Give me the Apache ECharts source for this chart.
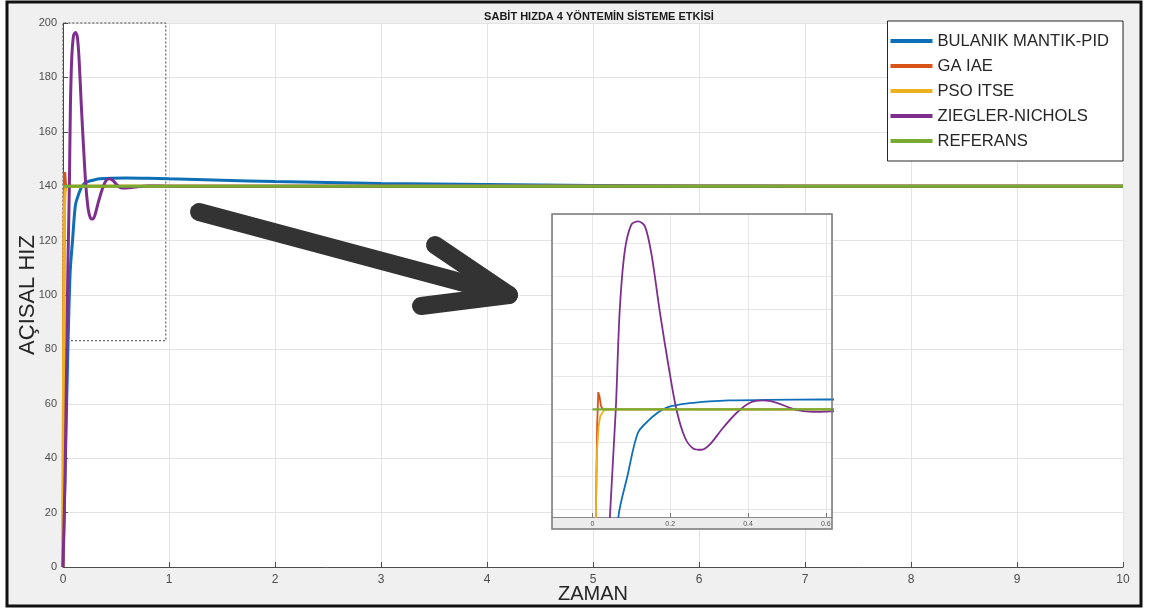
<!DOCTYPE html>
<html>
<head>
<meta charset="utf-8">
<script src="https://cdn.jsdelivr.net/npm/echarts@6/dist/echarts.min.js"></script>
<style>
  html, body { margin: 0; padding: 0; background: #fff; }
  #container { width: 1150px; height: 610px; }
</style>
</head>
<body>
<div id="container"></div>
<script>
// zaman (s) / açısal hız
const bulanikT = [0, 0.02, 0.04, 0.067, 0.09, 0.117, 0.147, 0.165, 0.181, 0.2, 0.23, 0.26, 0.3, 0.35, 0.45, 0.6, 0.8, 1.0, 1.5, 2, 3, 4, 5, 6, 7, 10];
const bulanikV = [0, 35, 70, 108, 120, 133, 137, 138.8, 140, 140.9, 141.6, 142, 142.4, 142.7, 142.9, 143, 142.9, 142.7, 142.2, 141.7, 141.0, 140.6, 140.3, 140.1, 140, 140];

const gaT = [0, 0.005, 0.009, 0.012, 0.015, 0.018, 0.022, 0.027, 10];
const gaV = [0, 70, 110, 135, 145.2, 144, 141, 140, 140];

const psoT = [0, 0.005, 0.009, 0.012, 0.016, 0.02, 0.03, 0.05, 10];
const psoV = [0, 70, 110, 128, 135, 138, 139.8, 140, 140];

const zieglerT = [0, 0.02, 0.035, 0.045, 0.06, 0.07, 0.083, 0.1, 0.1175, 0.135, 0.152, 0.173, 0.195, 0.216, 0.238, 0.259, 0.281, 0.302, 0.336, 0.371, 0.405, 0.439, 0.474, 0.508, 0.542, 0.577, 0.613, 0.65, 0.72, 0.8, 1.0, 10];
const zieglerV = [0, 35, 78, 108, 140, 169.5, 187.5, 195.5, 196.5, 195, 186.5, 169.5, 153.5, 140, 131.5, 128.3, 127.9, 129.5, 134.5, 139, 142, 142.7, 142, 140.5, 139.5, 139.3, 139.4, 139.5, 139.9, 140.1, 140, 140];

const referansT = [0, 10];
const referansV = [140, 140];

const names = ['BULANIK MANTIK-PID', 'GA IAE', 'PSO ITSE', 'ZIEGLER-NICHOLS', 'REFERANS'];
const colors = ['#0f6fb6', '#d95319', '#edb120', '#7e2f8e', '#77ac30'];
const seriesT = [bulanikT, gaT, psoT, zieglerT, referansT];
const seriesV = [bulanikV, gaV, psoV, zieglerV, referansV];

const xTicks = [0, 10, 1];
const yTicks = [0, 200, 20];

const font = "'Liberation Sans', Arial, sans-serif";

var dom = document.getElementById('container');
var myChart = echarts.init(dom, null, { renderer: 'canvas' });

function pairs(i) {
    return seriesT[i].map((t, k) => [t, seriesV[i][k]]);
}

var series = [];
for (let i = 0; i < names.length; i++) {
    let s = {
        name: names[i],
        type: 'line',
        xAxisIndex: 0,
        yAxisIndex: 0,
        data: pairs(i),
        showSymbol: false,
        symbol: 'none',
        smooth: (i === 0 || i === 3) ? 0.3 : false,
        lineStyle: { width: 3, color: colors[i] },
        itemStyle: { color: colors[i] },
        z: 2
    };
    if (i === 4) {
        s.markArea = {
            silent: true,
            itemStyle: { color: 'rgba(0,0,0,0)', borderColor: '#444', borderWidth: 1, borderType: [2, 2] },
            data: [[{ xAxis: 0, yAxis: 83.2 }, { xAxis: 0.97, yAxis: 200 }]]
        };
    }
    series.push(s);
}
// büyütülmüş bölge
for (let i = 0; i < names.length; i++) {
    series.push({
        name: names[i],
        type: 'line',
        xAxisIndex: 1,
        yAxisIndex: 1,
        data: pairs(i),
        showSymbol: false,
        symbol: 'none',
        smooth: (i === 0 || i === 3) ? 0.3 : false,
        lineStyle: { width: i === 4 ? 2.2 : 1.8, color: colors[i] },
        itemStyle: { color: colors[i] },
        z: 8
    });
}

var option = {
    backgroundColor: '#fff',
    animation: false,
    title: {
        text: 'SABİT HIZDA 4 YÖNTEMİN SİSTEME ETKİSİ',
        left: 594,
        textAlign: 'center',
        top: 6,
        textStyle: { fontSize: 11, fontWeight: 'bold', color: '#1a1a1a', fontFamily: font }
    },
    legend: {
        data: names,
        orient: 'vertical',
        right: 27,
        top: 21,
        icon: 'rect',
        itemWidth: 42,
        itemHeight: 4,
        itemGap: 5,
        padding: [10, 14, 10, 3],
        backgroundColor: '#fff',
        borderColor: '#262626',
        borderWidth: 1,
        textStyle: { fontSize: 16.6, lineHeight: 20, color: '#262626', fontFamily: font }
    },
    grid: [
        { left: 63, top: 23, width: 1060, height: 544, show: true, backgroundColor: '#fff', borderWidth: 0, outerBoundsMode: 'none', containLabel: false },
        { left: 552, top: 214, width: 280, height: 303, outerBoundsMode: 'none', containLabel: false }
    ],
    xAxis: [
        {
            type: 'value', gridIndex: 0,
            min: xTicks[0], max: xTicks[1], interval: xTicks[2],
            name: 'ZAMAN', nameLocation: 'middle', nameGap: 17, nameMoveOverlap: false,
            nameTextStyle: { fontSize: 20, color: '#262626', fontFamily: font },
            axisLine: { show: true, onZero: false, lineStyle: { color: '#4d4d4d' } },
            axisTick: { show: true, inside: true, length: 5, lineStyle: { color: '#4d4d4d' } },
            axisLabel: { fontSize: 12, color: '#4d4d4d', margin: 7, fontFamily: font },
            splitLine: { show: true, lineStyle: { color: '#e3e3e3' } }
        },
        {
            type: 'value', gridIndex: 1,
            min: -0.104, max: 0.616, splitNumber: 4,
            axisLine: { show: true, onZero: false, lineStyle: { color: '#888' } },
            axisTick: { show: true, inside: true, length: 4, lineStyle: { color: '#777' } },
            axisLabel: { fontSize: 7, color: '#555', margin: 4, showMinLabel: false, showMaxLabel: false },
            splitLine: { show: true, lineStyle: { color: '#e6e6e6' } },
            z: 6
        }
    ],
    yAxis: [
        {
            type: 'value', gridIndex: 0,
            min: yTicks[0], max: yTicks[1], interval: yTicks[2],
            name: 'AÇISAL HIZ', nameLocation: 'middle', nameGap: 24, nameMoveOverlap: false,
            nameTextStyle: { fontSize: 22, color: '#262626', fontFamily: font },
            axisLine: { show: true, onZero: false, lineStyle: { color: '#4d4d4d' } },
            axisTick: { show: true, inside: true, length: 5, lineStyle: { color: '#4d4d4d' } },
            axisLabel: { fontSize: 11, color: '#4d4d4d', margin: 6, fontFamily: font },
            splitLine: { show: true, lineStyle: { color: '#e3e3e3' } }
        },
        {
            type: 'value', gridIndex: 1,
            min: 107.7, max: 198.7, splitNumber: 9,
            axisLine: { show: false },
            axisTick: { show: false },
            axisLabel: { show: false },
            splitLine: { show: true, lineStyle: { color: '#e6e6e6' } },
            z: 6
        }
    ],
    graphic: [
        {
            type: 'rect', z: -100,
            shape: { x: 7, y: 2, width: 1134, height: 604 },
            style: { fill: '#f0f0f0', stroke: '#111', lineWidth: 3 }
        },
        {
            type: 'rect', z: 5,
            shape: { x: 552, y: 214, width: 280, height: 303 },
            style: { fill: '#fff' }
        },
        {
            type: 'rect', z: 5,
            shape: { x: 552, y: 517, width: 280, height: 12 },
            style: { fill: '#ececec' }
        },
        {
            type: 'rect', z: 9,
            shape: { x: 552, y: 214, width: 280, height: 315 },
            style: { fill: null, stroke: '#777', lineWidth: 1.5 }
        },
        {
            type: 'polyline', z: 4,
            shape: { points: [[199, 212], [509, 295]] },
            style: { stroke: '#333', lineWidth: 18, lineCap: 'round', fill: null }
        },
        {
            type: 'polyline', z: 4,
            shape: { points: [[435, 245], [509, 295], [421, 306]] },
            style: { stroke: '#333', lineWidth: 18, lineCap: 'round', lineJoin: 'round', fill: null }
        }
    ],
    series: series
};

myChart.setOption(option);
window.addEventListener('resize', myChart.resize);
</script>
</body>
</html>
